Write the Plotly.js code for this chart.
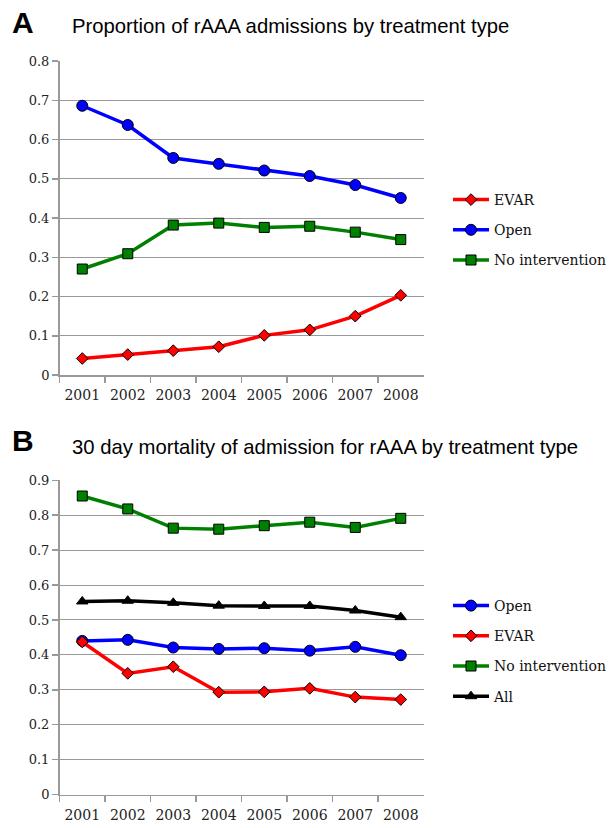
<!DOCTYPE html>
<html>
<head>
<meta charset="utf-8">
<script src="https://cdn.plot.ly/plotly-3.0.1.min.js"></script>
<style>html,body{margin:0;padding:0;background:#fff}#chart{width:611px;height:828px}</style>
</head>
<body>
<div id="chart"></div>
<script>
const years = ['2001','2002','2003','2004','2005','2006','2007','2008'];
// Panel A: proportion of rAAA admissions by treatment type
const propEVAR = [0.042, 0.052, 0.062, 0.072, 0.101, 0.115, 0.150, 0.203];
const propOpen = [0.686, 0.637, 0.553, 0.538, 0.521, 0.507, 0.484, 0.451];
const propNoInt = [0.270, 0.309, 0.382, 0.387, 0.376, 0.379, 0.364, 0.345];
// Panel B: 30 day mortality by treatment type
const mortOpen = [0.440, 0.443, 0.421, 0.417, 0.419, 0.412, 0.423, 0.399];
const mortEVAR = [0.437, 0.347, 0.366, 0.293, 0.294, 0.304, 0.279, 0.272];
const mortNoInt = [0.855, 0.818, 0.763, 0.760, 0.770, 0.780, 0.765, 0.791];
const mortAll = [0.553, 0.555, 0.549, 0.541, 0.540, 0.540, 0.527, 0.508];

const W = 611, H = 828;
const px = v => v / W, py = v => 1 - v / H;

function tr(y, name, color, symbol, size, xa, ya, legend) {
  return {
    x: years, y: y, name: name, type: 'scatter', mode: 'lines+markers',
    xaxis: xa, yaxis: ya, legend: legend, legendgroup: name + legend,
    line: {color: color, width: 3.5},
    marker: {color: color, symbol: symbol, size: size, line: {color: '#000', width: 1}}
  };
}

const data = [
  tr(propEVAR, 'EVAR', '#ff0000', 'diamond', 9, 'x', 'y', 'legend'),
  tr(propOpen, 'Open', '#0000ff', 'circle', 11, 'x', 'y', 'legend'),
  tr(propNoInt, 'No intervention', '#008000', 'square', 10, 'x', 'y', 'legend'),
  tr(mortOpen, 'Open', '#0000ff', 'circle', 11, 'x2', 'y2', 'legend2'),
  tr(mortEVAR, 'EVAR', '#ff0000', 'diamond', 9, 'x2', 'y2', 'legend2'),
  tr(mortNoInt, 'No intervention', '#008000', 'square', 10, 'x2', 'y2', 'legend2'),
  tr(mortAll, 'All', '#000000', 'triangle-up', 10, 'x2', 'y2', 'legend2')
];

const serif = '"DejaVu Serif", serif';
const sans = 'Liberation Sans';
const xaxisBase = {
  type: 'category', range: [-0.5, 7.5], domain: [px(60), px(427)],
  showline: true, linecolor: '#999', linewidth: 1.5,
  ticks: 'outside', tickson: 'boundaries', ticklen: 6, tickcolor: '#999', tickwidth: 1.5,
  showgrid: false, zeroline: false, fixedrange: true, automargin: false,
  tickangle: 0, ticklabelstandoff: 7,
  tickfont: {family: serif, size: 14, color: '#222'}
};
const yaxisBase = {
  dtick: 0.1, showline: true, linecolor: '#999', linewidth: 1.5,
  ticks: 'outside', ticklen: 6, tickcolor: '#999', tickwidth: 1.5,
  showgrid: true, gridcolor: '#999', gridwidth: 1, zeroline: false, automargin: false,
  tickfont: {family: serif, size: 13, color: '#222'}
};

const legendBase = {
  font: {family: serif, size: 14, color: '#111'}, bgcolor: 'rgba(0,0,0,0)',
  traceorder: 'grouped', tracegroupgap: 9, itemwidth: 36,
  xanchor: 'left', yanchor: 'top'
};

const layout = {
  width: W, height: H,
  margin: {l: 0, r: 0, t: 0, b: 0},
  paper_bgcolor: '#fff', plot_bgcolor: '#fff',
  showlegend: true,
  xaxis: Object.assign({}, xaxisBase, {anchor: 'y'}),
  yaxis: Object.assign({}, yaxisBase, {range: [0, 0.8], domain: [py(375), py(61)], anchor: 'x'}),
  xaxis2: Object.assign({}, xaxisBase, {anchor: 'y2'}),
  yaxis2: Object.assign({}, yaxisBase, {range: [0, 0.9], domain: [py(794.5), py(480.3)], anchor: 'x2'}),
  legend: Object.assign({}, legendBase, {x: px(452), y: py(184)}),
  legend2: Object.assign({}, legendBase, {x: px(452), y: py(590)}),
  annotations: [
    {text: '<b>A</b>', xref: 'paper', yref: 'paper', x: px(10), y: py(22), xanchor: 'left', yanchor: 'middle', showarrow: false,
     font: {family: sans, size: 30, color: '#000'}},
    {text: 'Proportion of rAAA admissions by treatment type', xref: 'paper', yref: 'paper', x: px(71), y: py(26), xanchor: 'left', yanchor: 'middle', showarrow: false,
     font: {family: sans, size: 20.3, color: '#000'}},
    {text: '<b>B</b>', xref: 'paper', yref: 'paper', x: px(10), y: py(440), xanchor: 'left', yanchor: 'middle', showarrow: false,
     font: {family: sans, size: 30, color: '#000'}},
    {text: '30 day mortality of admission for rAAA by treatment type', xref: 'paper', yref: 'paper', x: px(71), y: py(447), xanchor: 'left', yanchor: 'middle', showarrow: false,
     font: {family: sans, size: 20.3, color: '#000'}}
  ]
};

Plotly.newPlot('chart', data, layout, {displayModeBar: false, staticPlot: true});
</script>
</body>
</html>
